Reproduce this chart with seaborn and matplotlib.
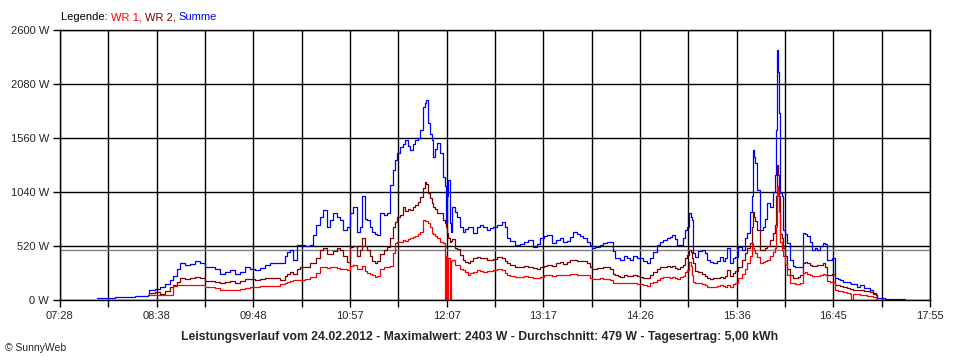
import numpy as np
import pandas as pd
import matplotlib
matplotlib.use("Agg")
import matplotlib.pyplot as plt
import seaborn as sns

# ---- data (minutes since midnight, watts) ----
time_min = [
    474.7, 480.4, 487.6, 494.8, 502.1, 509.3, 511.4, 512.1, 516.5, 520.1,
    523.7, 527.3, 529.4, 532.3, 534.5, 538.1, 541.7, 545.3, 548.9, 552.5,
    556.1, 559.7, 563.3, 566.9, 570.5, 574.1, 577.7, 581.3, 584.9, 588.5,
    592.1, 595.7, 599.3, 603.0, 606.6, 610.2, 611.6, 613.8, 615.9, 618.8,
    621.0, 624.6, 628.2, 630.3, 632.5, 635.4, 637.5, 640.4, 642.6, 644.7,
    647.6, 649.8, 652.0, 654.8, 657.0, 659.2, 662.0, 664.2, 665.6, 667.8,
    669.3, 671.4, 672.9, 675.0, 676.5, 678.6, 681.5, 683.7, 685.8, 688.0,
    689.4, 690.9, 693.0, 695.2, 696.6, 698.8, 700.2, 702.4, 703.8, 706.0,
    707.4, 709.6, 711.1, 711.8, 713.2, 714.7, 716.1, 716.8, 718.3, 719.7,
    721.9, 724.0, 725.5, 726.2, 726.9, 727.6, 729.1, 729.8, 730.5, 732.7,
    734.1, 736.3, 738.4, 739.9, 742.0, 743.5, 745.6, 748.5, 750.7, 752.9,
    755.7, 757.9, 760.1, 762.9, 766.5, 768.7, 770.2, 772.3, 775.9, 779.5,
    782.4, 785.3, 788.9, 791.8, 793.9, 796.8, 799.0, 802.6, 805.5, 808.3,
    810.5, 813.4, 815.6, 817.7, 820.6, 822.8, 824.9, 827.8, 830.0, 831.4,
    833.6, 835.0, 837.2, 839.3, 842.2, 844.4, 846.5, 848.0, 850.1, 851.6,
    854.5, 856.6, 858.8, 861.0, 863.8, 866.0, 868.2, 871.0, 873.2, 875.4,
    878.3, 880.4, 882.6, 885.5, 887.6, 889.1, 891.2, 892.7, 894.8, 897.0,
    898.4, 899.9, 901.3, 902.8, 903.5, 904.2, 905.6, 907.8, 910.7, 912.8,
    914.3, 916.4, 918.6, 921.5, 923.7, 925.8, 927.3, 928.7, 930.9, 933.0,
    934.5, 936.6, 939.5, 941.7, 943.1, 945.3, 946.7, 947.4, 948.2, 948.9,
    950.3, 952.5, 954.6, 956.1, 957.5, 959.7, 961.9, 963.3, 964.0, 964.7,
    965.5, 966.2, 966.9, 968.3, 969.1, 970.5, 971.9, 974.1, 976.3, 977.7,
    979.9, 981.3, 983.5, 984.9, 986.4, 988.5, 990.0, 992.1, 993.6, 995.7,
    997.9, 999.3, 1000.8, 1002.9, 1004.4, 1006.5, 1008.7, 1010.1, 1012.3, 1015.2,
    1017.3, 1018.1, 1019.5, 1022.4, 1024.6, 1027.4, 1029.6, 1031.8, 1033.9, 1036.1,
    1036.8, 1039.0, 1042.6, 1046.2, 1049.8, 1055.5, 1057.0,
]

summe = [
    15, 20, 25, 30, 35, 40, 45, 100, 110, 128,
    150, 193, 230, 300, 356, 340, 350, 375, 360, 320,
    318, 300, 250, 270, 289, 250, 270, 318, 300, 285,
    305, 340, 356, 360, 356, 420, 462, 481, 385, 530,
    530, 520, 530, 626, 720, 800, 866, 700, 770, 837,
    800, 770, 674, 700, 837, 900, 655, 700, 1000, 780,
    770, 700, 655, 640, 623, 837, 820, 837, 1110, 1250,
    1348, 1420, 1474, 1500, 1540, 1480, 1444, 1500, 1540, 1560,
    1636, 1860, 1900, 1926, 1700, 1600, 1540, 1380, 1450, 1508,
    1412, 1188, 1100, 740, 1000, 1160, 740, 655, 900, 850,
    800, 703, 655, 680, 703, 705, 645, 700, 722, 700,
    674, 690, 703, 720, 751, 700, 597, 570, 530, 540,
    560, 578, 510, 540, 597, 620, 626, 549, 580, 597,
    560, 570, 610, 655, 640, 620, 600, 559, 530, 500,
    510, 510, 530, 549, 560, 560, 470, 404, 400, 385,
    420, 404, 390, 420, 400, 404, 380, 356, 400, 462,
    530, 559, 580, 597, 610, 626, 590, 530, 530, 600,
    674, 700, 837, 800, 770, 450, 414, 470, 481, 450,
    385, 370, 356, 380, 414, 380, 400, 500, 356, 400,
    414, 510, 480, 600, 645, 847, 1000, 1444, 1380, 1316,
    1060, 674, 700, 780, 934, 900, 1040, 1200, 1637, 2403,
    2200, 1800, 1030, 1000, 674, 640, 549, 385, 330, 318,
    318, 318, 645, 640, 620, 560, 481, 500, 481, 520,
    549, 540, 385, 385, 400, 212, 200, 190, 173, 170,
    160, 155, 150, 125, 140, 120, 115, 100, 67, 50,
    19, 15, 12, 10, 12, 10, 10,
]

nan = np.nan
wr2 = [
    nan, nan, nan, nan, nan, nan, nan, 70, 75, 60,
    90, 125, 140, 170, 212, 205, 215, 222, 215, 180,
    185, 170, 160, 175, 185, 165, 180, 205, 200, 190,
    200, 210, 215, 212, 193, 230, 250, 270, 255, 300,
    318, 315, 356, 360, 400, 481, 500, 440, 443, 470,
    500, 481, 420, 366, 510, 520, 420, 480, 600, 520,
    480, 420, 380, 356, 380, 443, 480, 510, 600, 703,
    750, 800, 820, 896, 860, 880, 870, 900, 915, 940,
    993, 1080, 1136, 1120, 1030, 980, 934, 900, 880, 837,
    837, 770, 740, 700, 650, 600, 559, 570, 588, 500,
    490, 433, 385, 370, 356, 380, 404, 410, 404, 404,
    385, 385, 395, 414, 400, 380, 356, 340, 320, 318,
    325, 320, 308, 300, 320, 330, 340, 330, 355, 366,
    350, 370, 385, 385, 380, 380, 375, 356, 320, 298,
    300, 305, 310, 320, 320, 300, 250, 241, 230, 222,
    240, 235, 230, 241, 235, 222, 215, 212, 240, 270,
    300, 318, 320, 325, 320, 330, 310, 300, 318, 340,
    400, 430, 481, 462, 400, 356, 280, 270, 250, 230,
    212, 205, 210, 212, 225, 215, 230, 289, 230, 260,
    280, 318, 385, 450, 500, 549, 700, 847, 800, 760,
    674, 481, 481, 500, 520, 578, 645, 720, 1000, 1300,
    1200, 1000, 640, 600, 500, 420, 300, 241, 215, 212,
    220, 241, 356, 370, 360, 340, 330, 330, 335, 340,
    356, 320, 241, 241, 250, 144, 140, 135, 125, 116,
    110, 105, 100, 95, 100, 90, 85, 75, 60, 45,
    10, nan, nan, nan, nan, nan, nan,
]

wr1 = [
    nan, nan, nan, nan, nan, nan, nan, 45, 50, 45,
    48, 50, 135, 140, 140, 145, 140, 144, 140, 128,
    125, 120, 95, 100, 100, 98, 110, 118, 125, 130,
    132, 135, 135, 138, 154, 165, 175, 180, 190, 195,
    193, 205, 222, 225, 260, 318, 320, 310, 315, 318,
    305, 300, 295, 289, 330, 337, 300, 295, 330, 280,
    260, 250, 240, 222, 230, 300, 318, 320, 330, 450,
    549, 560, 560, 578, 570, 590, 600, 607, 620, 640,
    655, 770, 760, 760, 740, 700, 645, 640, 620, 600,
    559, 549, 0, 420, 0, 400, 0, 380, 385, 337,
    337, 300, 289, 270, 241, 260, 270, 289, 280, 270,
    275, 280, 289, 295, 289, 260, 241, 230, 222, 225,
    230, 218, 212, 212, 225, 241, 241, 230, 241, 245,
    240, 241, 250, 250, 245, 241, 240, 241, 215, 202,
    200, 205, 210, 205, 200, 195, 164, 164, 160, 164,
    164, 164, 160, 160, 150, 150, 145, 135, 160, 175,
    193, 210, 220, 222, 215, 222, 215, 205, 222, 230,
    270, 290, 366, 330, 240, 173, 164, 164, 150, 140,
    125, 125, 125, 135, 140, 135, 130, 140, 125, 150,
    160, 212, 250, 300, 356, 420, 549, 500, 480, 450,
    414, 356, 370, 380, 390, 420, 462, 500, 700, 1100,
    1000, 850, 560, 480, 420, 350, 241, 164, 160, 155,
    155, 164, 260, 270, 250, 240, 230, 230, 235, 240,
    250, 240, 185, 175, 170, 96, 90, 90, 80, 67,
    60, 0, 60, 55, 50, 45, 40, 35, 29, 20,
    5, nan, nan, nan, nan, nan, nan,
]

average_w = 479
x_tick_labels = ["07:28", "08:38", "09:48", "10:57", "12:07",
                 "13:17", "14:26", "15:36", "16:45", "17:55"]
y_ticks = [0, 520, 1040, 1560, 2080, 2600]
series_names = ["Summe", "WR 2", "WR 1"]
series_colors = {"WR 1": "#ff0000", "WR 2": "#800000", "Summe": "#0000ff"}
title_text = ("Leistungsverlauf vom 24.02.2012 - Maximalwert: 2403 W - "
              "Durchschnitt: 479 W - Tagesertrag: 5,00 kWh")

# ---- build long table ----
frames = []
for name, vals in (("Summe", summe), ("WR 2", wr2), ("WR 1", wr1)):
    frames.append(pd.DataFrame({"t": time_min, "W": vals, "series": name}))
df = pd.concat(frames, ignore_index=True).dropna()

sns.set_style("white")
plt.rcParams["font.family"] = ["Liberation Sans", "DejaVu Sans"]

fig = plt.figure(figsize=(9.6, 3.6), dpi=100)
ax = fig.add_axes([60 / 960, 1 - 300 / 360, 870 / 960, 270 / 360])

t0, t1 = 448, 1075
ax.set_xlim(t0, t1)
ax.set_ylim(0, 2600)

major = np.linspace(t0, t1, 10)
minor = (major[:-1] + major[1:]) / 2
ax.set_xticks(major)
ax.set_xticklabels(x_tick_labels)
ax.set_xticks(minor, minor=True)
ax.set_yticks(y_ticks)
ax.set_yticklabels([f"{v} W" for v in y_ticks])

ax.set_axisbelow(True)
ax.grid(True, which="both", axis="x", color="black", lw=1.0)
ax.grid(True, which="major", axis="y", color="black", lw=1.0)
ax.axhline(average_w, color="#808080", lw=1.0, zorder=1.5)

sns.lineplot(data=df, x="t", y="W", hue="series", hue_order=series_names,
             palette=series_colors, estimator=None, sort=False,
             legend=False, lw=0.9, drawstyle="steps-post", ax=ax)

for s in ax.spines.values():
    s.set_color("black")
    s.set_linewidth(1.0)
ax.tick_params(axis="both", which="both", direction="out", length=5,
               width=1.0, color="black", labelsize=8, pad=3,
               bottom=True, left=True)
ax.set_xlabel("")
ax.set_ylabel("")

# title below
fig.text(0.5, 1 - 337 / 360, title_text, ha="center", va="center",
         fontsize=8.8, fontweight="bold")
fig.text(5 / 960, 1 - 348 / 360, "© SunnyWeb", ha="left", va="center",
         fontsize=7.5)

# multicolour legend line
fig.canvas.draw()
renderer = fig.canvas.get_renderer()
x_px = 61
for txt, col in (("Legende: ", "black"), ("WR 1, ", series_colors["WR 1"]),
                 ("WR 2, ", series_colors["WR 2"]),
                 ("Summe", series_colors["Summe"])):
    t = fig.text(x_px / 960, 1 - 17 / 360, txt, color=col, fontsize=8,
                 ha="left", va="center")
    bb = t.get_window_extent(renderer=renderer)
    x_px += bb.width

fig.savefig("out.png", dpi=100)
